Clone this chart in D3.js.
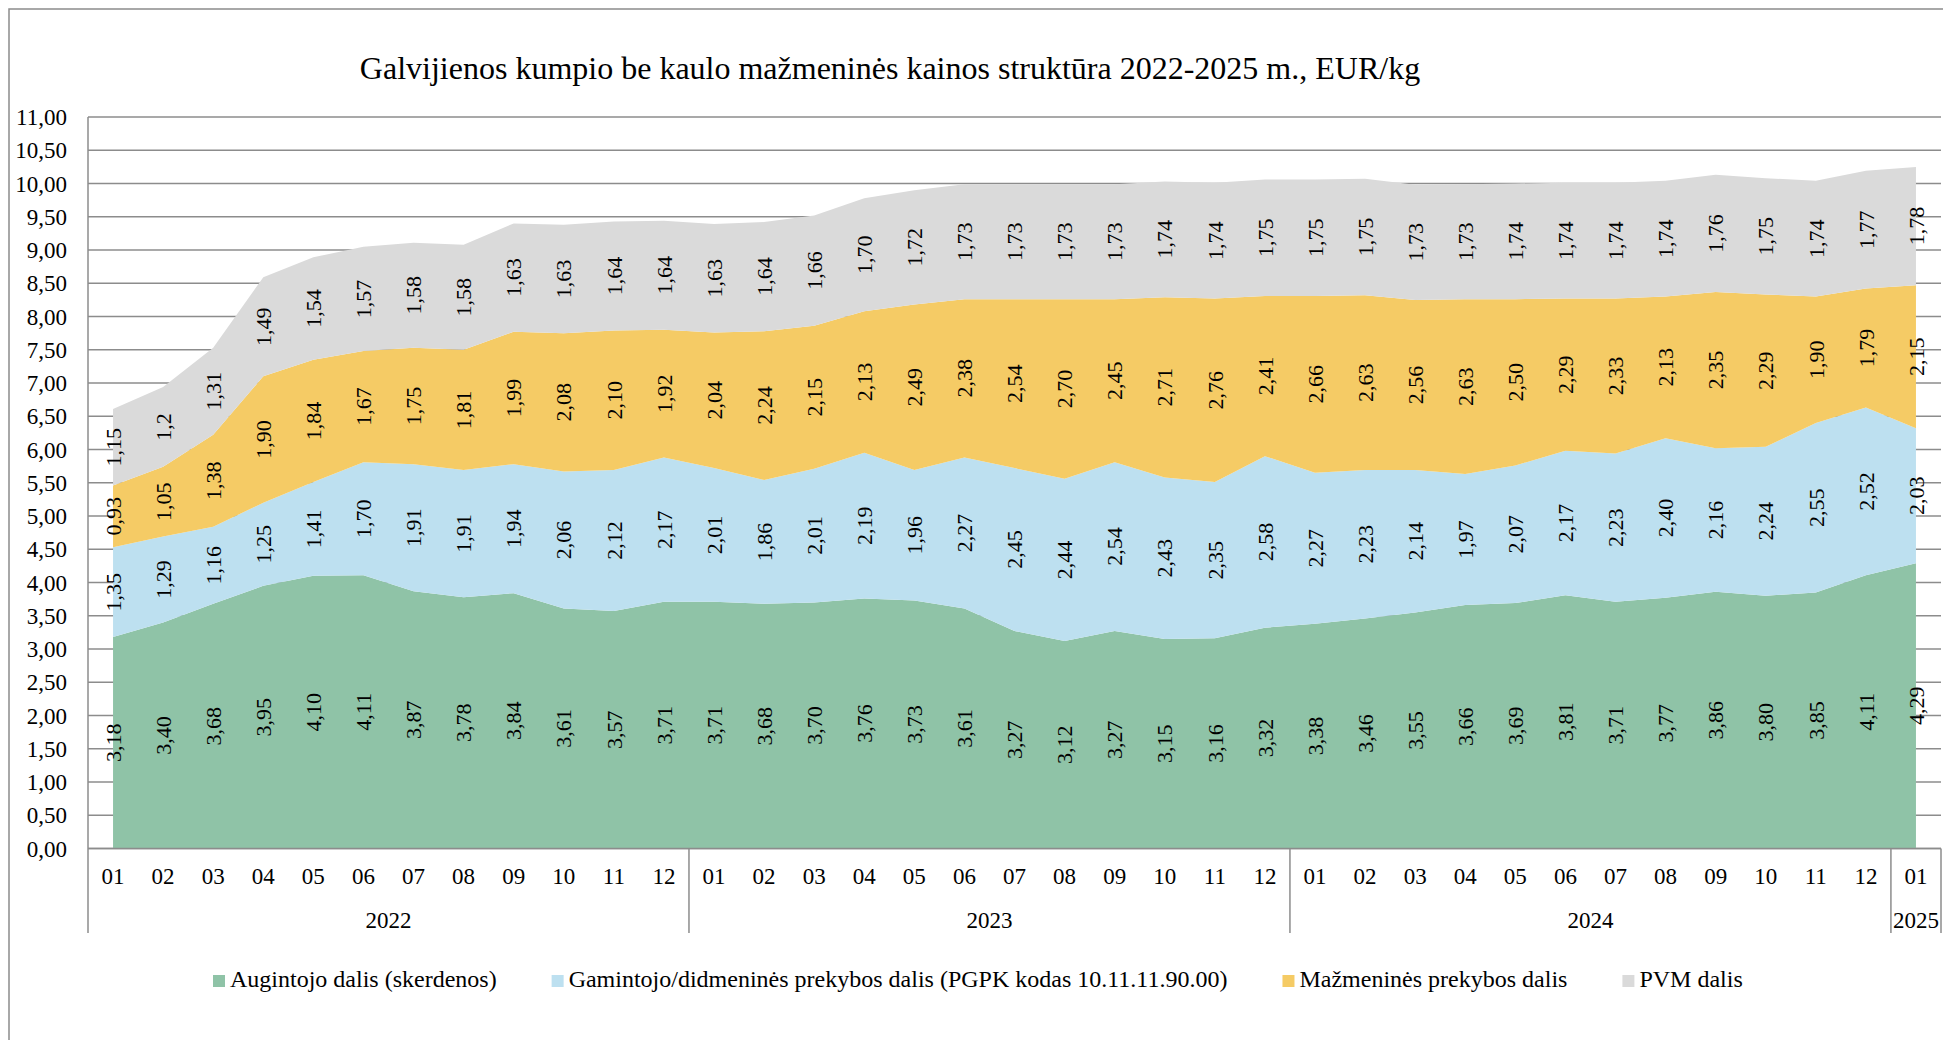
<!DOCTYPE html>
<html>
<head>
<meta charset="utf-8">
<script src="https://cdn.jsdelivr.net/npm/d3@7"></script>
<style>
  html, body { margin: 0; padding: 0; background: #fff; }
  svg { display: block; }
  text { font-family: "Liberation Serif", "Times New Roman", serif; fill: #000; }
</style>
</head>
<body>
<svg id="chart" width="1943" height="1040"></svg>
<script>
// ---------------- DATA ----------------
const titleText = "Galvijienos kumpio be kaulo mažmeninės kainos struktūra 2022-2025 m., EUR/kg";

const months = ["01","02","03","04","05","06","07","08","09","10","11","12",
                "01","02","03","04","05","06","07","08","09","10","11","12",
                "01","02","03","04","05","06","07","08","09","10","11","12",
                "01"];
const years = ["2022", "2023", "2024", "2025"];
const monthsPerYear = [12, 12, 12, 1];

const seriesNames = [
  "Augintojo dalis (skerdenos)",
  "Gamintojo/didmeninės prekybos dalis (PGPK kodas 10.11.11.90.00)",
  "Mažmeninės prekybos dalis",
  "PVM dalis"
];

const augintojo = [3.18,3.40,3.68,3.95,4.10,4.11,3.87,3.78,3.84,3.61,3.57,3.71,
                   3.71,3.68,3.70,3.76,3.73,3.61,3.27,3.12,3.27,3.15,3.16,3.32,
                   3.38,3.46,3.55,3.66,3.69,3.81,3.71,3.77,3.86,3.80,3.85,4.11,
                   4.29];
const gamintojo = [1.35,1.29,1.16,1.25,1.41,1.70,1.91,1.91,1.94,2.06,2.12,2.17,
                   2.01,1.86,2.01,2.19,1.96,2.27,2.45,2.44,2.54,2.43,2.35,2.58,
                   2.27,2.23,2.14,1.97,2.07,2.17,2.23,2.40,2.16,2.24,2.55,2.52,
                   2.03];
const mazmenines = [0.93,1.05,1.38,1.90,1.84,1.67,1.75,1.81,1.99,2.08,2.10,1.92,
                    2.04,2.24,2.15,2.13,2.49,2.38,2.54,2.70,2.45,2.71,2.76,2.41,
                    2.66,2.63,2.56,2.63,2.50,2.29,2.33,2.13,2.35,2.29,1.90,1.79,
                    2.15];
const pvm = [1.15,1.2,1.31,1.49,1.54,1.57,1.58,1.58,1.63,1.63,1.64,1.64,
             1.63,1.64,1.66,1.70,1.72,1.73,1.73,1.73,1.73,1.74,1.74,1.75,
             1.75,1.75,1.73,1.73,1.74,1.74,1.74,1.74,1.76,1.75,1.74,1.77,
             1.78];
// data label printed with one decimal in the source
const labelOverrides = { 3: { 1: "1,2" } };

const yTickValues = [0,0.5,1,1.5,2,2.5,3,3.5,4,4.5,5,5.5,6,6.5,7,7.5,8,8.5,9,9.5,10,10.5,11];

const colors = ["#8FC3A7", "#BDE0F0", "#F5CB65", "#DADADA"];

// ---------------- LAYOUT ----------------
const plotLeft = 88, plotRight = 1941, plotTop = 117, plotBottom = 848.5;
const axisBottomExt = 933;
const gridColor = "#8c8c8c";

const svg = d3.select("#chart");

// outer chart border (only left and top visible)
svg.append("rect")
  .attr("x", 9).attr("y", 9)
  .attr("width", 2100).attr("height", 1200)
  .attr("fill", "none").attr("stroke", "#8c8c8c").attr("stroke-width", 1.5);

const idx = d3.range(months.length);
const x = d3.scaleBand().domain(idx).range([plotLeft, plotRight]).padding(0);
const cx = i => x(i) + x.bandwidth() / 2;
const y = d3.scaleLinear().domain([0, 11]).range([plotBottom, plotTop]);

// gridlines
svg.append("g").selectAll("line").data(yTickValues).join("line")
  .attr("x1", plotLeft).attr("x2", plotRight)
  .attr("y1", d => y(d)).attr("y2", d => y(d))
  .attr("stroke", gridColor).attr("stroke-width", 1.3);

// stacked data
const table = idx.map(i => ({ i, s0: augintojo[i], s1: gamintojo[i], s2: mazmenines[i], s3: pvm[i] }));
const keys = ["s0", "s1", "s2", "s3"];
const stacked = d3.stack().keys(keys)(table);

const area = d3.area()
  .x(d => cx(d.data.i))
  .y0(d => y(d[0]))
  .y1(d => y(d[1]));

svg.append("g").selectAll("path").data(stacked).join("path")
  .attr("d", area)
  .attr("fill", (d, k) => colors[k]);

// axes lines
svg.append("line")
  .attr("x1", plotLeft).attr("x2", plotRight)
  .attr("y1", plotBottom).attr("y2", plotBottom)
  .attr("stroke", gridColor).attr("stroke-width", 1.5);
svg.append("line")
  .attr("x1", plotLeft).attr("x2", plotLeft)
  .attr("y1", plotTop).attr("y2", axisBottomExt)
  .attr("stroke", gridColor).attr("stroke-width", 1.5);

// y tick labels
const fmt = v => d3.format(".2f")(v).replace(".", ",");
svg.append("g").selectAll("text").data(yTickValues).join("text")
  .attr("x", 67).attr("y", d => y(d))
  .attr("dy", "0.35em")
  .attr("text-anchor", "end")
  .style("font-size", "23px")
  .text(fmt);

// data labels
const labelG = svg.append("g");
stacked.forEach((layer, k) => {
  labelG.selectAll(null).data(layer).join("text")
    .attr("transform", d => `translate(${cx(d.data.i)},${y((d[0] + d[1]) / 2)}) rotate(-90)`)
    .attr("text-anchor", "middle")
    .attr("dy", "0.35em")
    .style("font-size", "22px")
    .text(d => (labelOverrides[k] && labelOverrides[k][d.data.i]) || fmt(d[1] - d[0]));
});

// category axis: months
svg.append("g").selectAll("text").data(idx).join("text")
  .attr("x", i => cx(i)).attr("y", 884)
  .attr("text-anchor", "middle")
  .style("font-size", "23px")
  .text(i => months[i]);

// year groups
let start = 0;
const bounds = [];
years.forEach((yr, j) => {
  const end = start + monthsPerYear[j];
  bounds.push({ yr, x0: x(start), x1: end < months.length ? x(end) : plotRight });
  start = end;
});
svg.append("g").selectAll("line").data(bounds).join("line")
  .attr("x1", d => d.x1).attr("x2", d => d.x1)
  .attr("y1", plotBottom).attr("y2", axisBottomExt)
  .attr("stroke", gridColor).attr("stroke-width", 1.5);
svg.append("g").selectAll("text").data(bounds).join("text")
  .attr("x", d => (d.x0 + d.x1) / 2).attr("y", 928)
  .attr("text-anchor", "middle")
  .style("font-size", "23px")
  .text(d => d.yr);

// title
svg.append("text")
  .attr("x", 890).attr("y", 79)
  .attr("text-anchor", "middle")
  .style("font-size", "32px")
  .text(titleText);

// legend
const legend = svg.append("g");
let lx = 213;
seriesNames.forEach((name, k) => {
  legend.append("rect")
    .attr("x", lx).attr("y", 975).attr("width", 12).attr("height", 12)
    .attr("fill", colors[k]);
  const t = legend.append("text")
    .attr("x", lx + 17).attr("y", 987)
    .style("font-size", "24px")
    .text(name);
  lx += 17 + t.node().getComputedTextLength() + 55;
});
</script>
</body>
</html>
